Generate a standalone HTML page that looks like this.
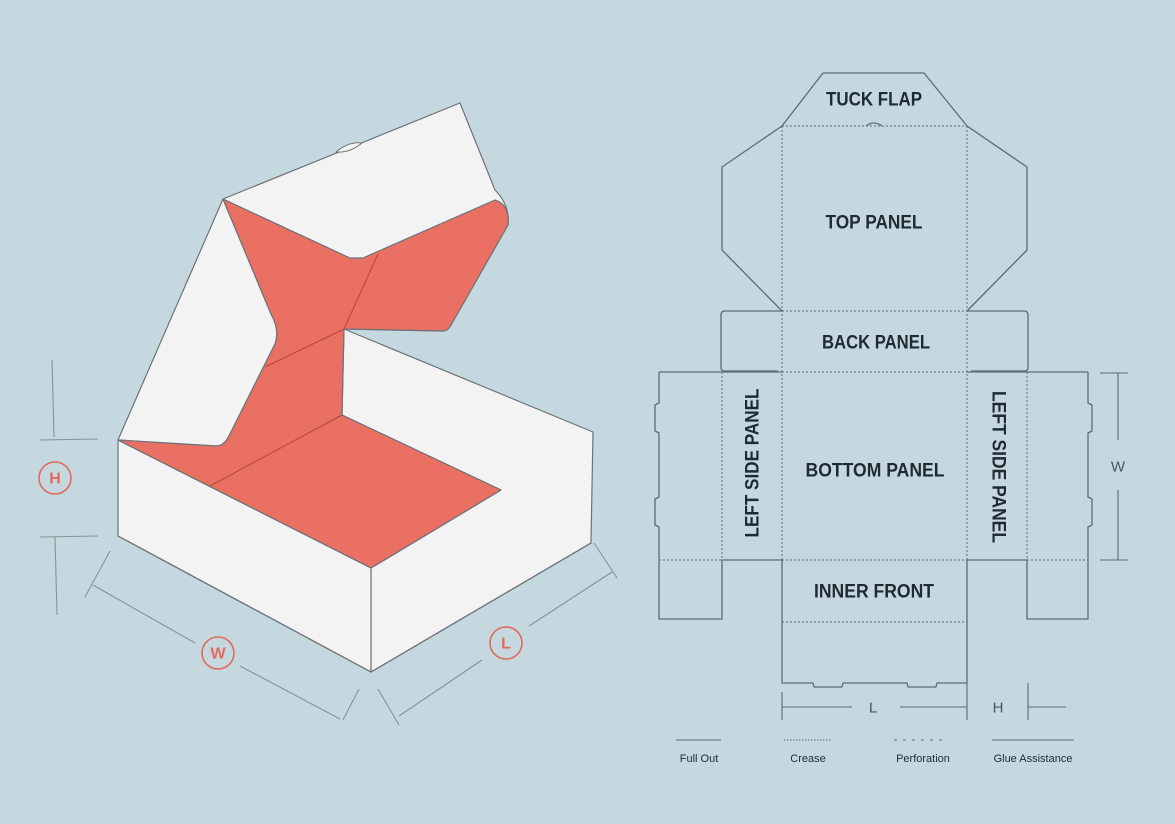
<!DOCTYPE html>
<html><head><meta charset="utf-8"><style>
html,body{margin:0;padding:0;background:#c6d8df;}
svg{display:block}
.t{font-family:"Liberation Sans",sans-serif;font-weight:bold;fill:#1f2a32;font-size:19px;text-anchor:middle;dominant-baseline:central}
.s{font-family:"Liberation Sans",sans-serif;fill:#1f2a32;font-size:11px;text-anchor:middle}
.c{fill:none;stroke:#e06a5c;stroke-width:1.6}
.ct{font-family:"Liberation Sans",sans-serif;fill:#e06a5c;font-size:16px;font-weight:bold;text-anchor:middle;dominant-baseline:central}
</style></head><body>
<svg width="1175" height="824" viewBox="0 0 1175 824" xmlns="http://www.w3.org/2000/svg">
<rect width="1175" height="824" fill="#c6d8df"/>
<!-- BOX -->
<g stroke="#6c7378" stroke-width="1.2" stroke-linejoin="round">
<path d="M223,199 L460,103 L495,190 Q510,205 508,225 L451,325 Q448,331 443,331 L344,329 L344,258 Z" fill="#f3f3f3"/>
<path d="M336,152 Q349,141 362,143 Q350,153 336,152 Z" fill="#f3f3f3" stroke-width="1"/>
<path d="M118,440 L223,199 L271,314 Q280,330 275,344 L229,436 Q224,446 216,446 Z" fill="#f3f3f3"/>
<path d="M344,329 L593,432 L591,543 L371,672 L371,568 L501,490 L342,415 Z" fill="#f3f3f3"/>
<path d="M118,440 L371,568 L371,672 L118,536 Z" fill="#f3f3f3"/>
<path d="M223,199 L350,258 L363,258 L495,200 Q510,205 508,225 L451,325 Q448,331 443,331 L344,329 L342,415 L501,490 L371,568 L118,440 L216,446 Q224,446 229,436 L275,344 Q280,330 271,314 Z" fill="#e97062"/>
<path d="M378,254 L344,329 L265,367 M342,415 L210,486" fill="none" stroke="#b04a3e" stroke-width="1"/>
<path d="M118,536 L371,672 L591,543" fill="none" stroke="#6c7378" stroke-width="1.2"/>
</g>
<g stroke="#8a9297" stroke-width="1.1" fill="none">
<path d="M52,360 L54,437 M40,440 L98,439 M40,537 L98,536 M55,537 L57,615"/>
<path d="M93,585 L195,643 M240,666 L340,719 M110,551 L85,597 M359,689 L343,720"/>
<path d="M612,572 L529,626 M482,660 L399,716 M594,543 L617,578 M378,689 L399,725"/>
</g>
<circle cx="55" cy="478" r="16" class="c"/><text x="55" y="479" class="ct">H</text>
<circle cx="218" cy="653" r="16" class="c"/><text x="218" y="654" class="ct">W</text>
<circle cx="506" cy="643" r="16" class="c"/><text x="506" y="644" class="ct">L</text>
<!-- NET -->
<g stroke="#5f6b73" stroke-width="1.3" fill="none" stroke-linejoin="round">
<path d="M782,126 L823,73 L924,73 L967,126"/>
<path d="M782,126 L722,167 L722,250 L782,311"/>
<path d="M967,126 L1027,167 L1027,250 L967,311"/>
<path d="M782,311 L725,311 Q721,311 721,315 L721,368 Q721,371 725,371 L778,371"/>
<path d="M967,311 L1024,311 Q1028,311 1028,315 L1028,368 Q1028,371 1024,371 L971,371"/>
<path d="M659,372 L782,372 M967,372 L1088,372"/>
<path d="M659,372 L659,403 L655,405 L655,431 L659,433 L659,497 L655,499 L655,525 L659,527 L659,619 L722,619 L722,560 L782,560"/>
<path d="M1088,372 L1088,403 L1092,405 L1092,431 L1088,433 L1088,497 L1092,499 L1092,525 L1088,527 L1088,619 L1027,619 L1027,560 L967,560"/>
<path d="M782,560 L782,683 L813,683 L814,687 L842,687 L843,683 L907,683 L908,687 L936,687 L937,683 L967,683 L967,560"/>
<path d="M866,126 Q874,120 882,126"/>
</g>
<g stroke="#5f6b73" stroke-width="1" fill="none" stroke-dasharray="2,2">
<path d="M782,126 L967,126 M782,311 L967,311 M782,372 L967,372 M782,126 L782,560 M967,126 L967,560"/>
<path d="M722,372 L722,560 M1027,372 L1027,560"/>
<path d="M659,560 L722,560 M782,560 L967,560 M1027,560 L1088,560 M782,622 L967,622"/>
</g>
<text x="874" y="100" class="t" textLength="96" lengthAdjust="spacingAndGlyphs">TUCK FLAP</text>
<text x="874" y="223" class="t" textLength="97" lengthAdjust="spacingAndGlyphs">TOP PANEL</text>
<text x="876" y="343" class="t" textLength="108" lengthAdjust="spacingAndGlyphs">BACK PANEL</text>
<text x="875" y="471" class="t" textLength="139" lengthAdjust="spacingAndGlyphs">BOTTOM PANEL</text>
<text x="874" y="592" class="t" textLength="120" lengthAdjust="spacingAndGlyphs">INNER FRONT</text>
<text class="t" transform="translate(753,463) rotate(-90)" textLength="149" lengthAdjust="spacingAndGlyphs">LEFT SIDE PANEL</text>
<text class="t" transform="translate(998,467) rotate(90)" textLength="152" lengthAdjust="spacingAndGlyphs">LEFT SIDE PANEL</text>
<g stroke="#5f6b73" stroke-width="1.1" fill="none">
<path d="M782,692 L782,720 M967,683 L967,720 M782,707 L852,707 M900,707 L967,707"/>
<path d="M1028,683 L1028,720 M1028,707 L1066,707"/>
<path d="M1100,373 L1128,373 M1100,560 L1128,560 M1118,373 L1118,440 M1118,490 L1118,560"/>
<path d="M676,740 L721,740 M992,740 L1074,740"/>
<path d="M784,740 L831,740" stroke-dasharray="1.5,1.5" stroke-width="0.9"/>
<path d="M894,740 L948,740" stroke-dasharray="3,6"/>
</g>
<text x="873" y="708" class="t" style="font-weight:normal;font-size:15px;fill:#4a555c">L</text>
<text x="998" y="708" class="t" style="font-weight:normal;font-size:15px;fill:#4a555c">H</text>
<text x="1118" y="467" class="t" style="font-weight:normal;font-size:15px;fill:#4a555c">W</text>
<text x="699" y="762" class="s">Full Out</text>
<text x="808" y="762" class="s">Crease</text>
<text x="923" y="762" class="s">Perforation</text>
<text x="1033" y="762" class="s">Glue Assistance</text>
</svg>
</body></html>
